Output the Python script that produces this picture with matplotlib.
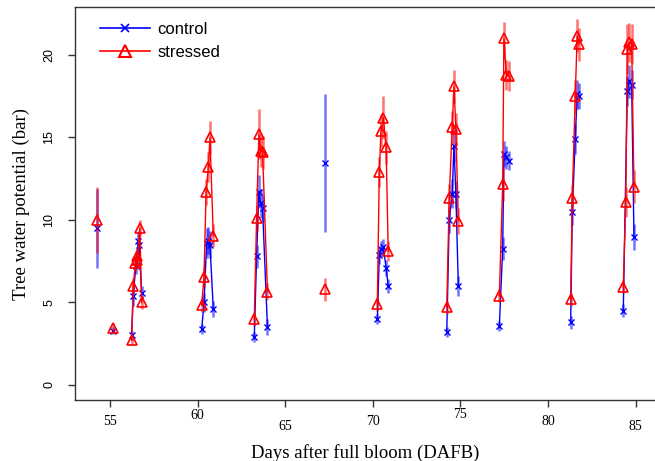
import matplotlib
matplotlib.use('Agg')
import matplotlib.pyplot as plt
import numpy as np
from matplotlib.transforms import ScaledTranslation
from matplotlib.lines import Line2D

# ---------------- data ----------------
control_grp = [1,
               2,
               3, 3, 3, 3, 3, 3,
               4, 4, 4, 4, 4, 4,
               5, 5, 5, 5, 5, 5,
               6,
               7, 7, 7, 7, 7, 7,
               8, 8, 8, 8, 8, 8,
               9, 9, 9, 9, 9,
               10, 10, 10, 10, 10,
               11, 11, 11, 11, 11]
control_day = [54.25,
               55.20,
               56.24, 56.33, 56.48, 56.62, 56.67, 56.81,
               60.24, 60.37, 60.52, 60.62, 60.71, 60.90,
               63.24, 63.37, 63.50, 63.60, 63.71, 63.99,
               67.27,
               70.26, 70.37, 70.47, 70.60, 70.76, 70.88,
               74.22, 74.36, 74.53, 74.63, 74.74, 74.88,
               77.22, 77.41, 77.48, 77.62, 77.78,
               81.29, 81.38, 81.55, 81.66, 81.77,
               84.29, 84.52, 84.63, 84.77, 84.90]
control_val = [9.5,
               3.3,
               3.0, 5.4, 7.2, 8.7, 8.5, 5.6,
               3.4, 5.0, 8.6, 8.75, 8.5, 4.6,
               2.9, 7.8, 11.7, 11.0, 10.7, 3.5,
               13.45,
               4.0, 7.85, 8.25, 8.35, 7.1, 6.0,
               3.2, 10.0, 11.6, 14.5, 11.55, 6.0,
               3.6, 8.25, 14.0, 13.8, 13.6,
               3.8, 10.5, 14.9, 17.6, 17.5,
               4.5, 17.8, 18.4, 18.2, 8.95]
control_err = [2.4,
               0.2,
               0.3, 0.6, 0.5, 0.6, 0.6, 0.4,
               0.3, 0.6, 0.9, 0.8, 0.8, 0.5,
               0.3, 0.7, 1.0, 0.9, 0.8, 0.5,
               4.2,
               0.3, 0.5, 0.5, 0.5, 0.5, 0.4,
               0.3, 0.8, 0.9, 1.0, 0.8, 0.6,
               0.3, 0.7, 0.8, 0.7, 0.6,
               0.4, 0.8, 0.9, 0.9, 0.8,
               0.4, 0.9, 1.0, 0.9, 0.8]

stressed_grp = [1,
                2,
                3, 3, 3, 3, 3, 3, 3,
                4, 4, 4, 4, 4, 4,
                5, 5, 5, 5, 5, 5,
                6,
                7, 7, 7, 7, 7, 7,
                8, 8, 8, 8, 8, 8,
                9, 9, 9, 9, 9,
                10, 10, 10, 10, 10,
                11, 11, 11, 11, 11, 11]
stressed_day = [54.25,
                55.20,
                56.24, 56.33, 56.46, 56.52, 56.57, 56.71, 56.81,
                60.24, 60.37, 60.49, 60.62, 60.71, 60.90,
                63.24, 63.37, 63.50, 63.60, 63.71, 63.99,
                67.27,
                70.26, 70.37, 70.47, 70.60, 70.76, 70.88,
                74.22, 74.36, 74.53, 74.63, 74.74, 74.88,
                77.22, 77.41, 77.48, 77.62, 77.78,
                81.29, 81.38, 81.55, 81.66, 81.77,
                84.29, 84.43, 84.52, 84.63, 84.77, 84.90]
stressed_val = [10.0,
                3.45,
                2.7, 6.0, 7.4, 7.6, 7.8, 9.5, 5.0,
                4.85, 6.55, 11.7, 13.2, 15.0, 9.05,
                4.0, 10.1, 15.2, 14.2, 14.1, 5.65,
                5.8,
                4.9, 12.9, 15.4, 16.2, 14.4, 8.1,
                4.7, 11.3, 15.6, 18.1, 15.5, 9.95,
                5.4, 12.15, 21.0, 18.8, 18.7,
                5.2, 11.3, 17.5, 21.15, 20.65,
                5.95, 11.1, 20.35, 20.75, 20.65, 12.0]
stressed_err = [2.0,
                0.3,
                0.3, 0.5, 0.5, 0.5, 0.5, 0.5, 0.4,
                0.4, 0.6, 0.8, 0.9, 1.0, 0.7,
                0.4, 0.8, 1.5, 1.0, 1.0, 0.5,
                0.7,
                0.4, 0.9, 1.0, 1.3, 1.0, 0.6,
                0.4, 0.9, 1.0, 1.0, 1.0, 0.8,
                0.4, 1.0, 1.0, 0.9, 0.9,
                0.4, 0.8, 1.0, 1.0, 1.0,
                0.4, 0.9, 1.5, 1.2, 1.2, 1.0]

x_ticks = [55, 60, 65, 70, 75, 80, 85]
y_ticks = [0, 5, 10, 15, 20]
series_labels = ["control", "stressed"]

# ---------------- plot ----------------
fig = plt.figure(figsize=(6.55, 4.61), dpi=100)
ax = fig.add_axes([75 / 655, 1 - 400 / 461, 580 / 655, 393 / 461])

BLUE = '#0000ff'
RED = '#ff0000'

def draw_series(days, vals, errs, grps, color, marker, ms, mew, z):
    days = np.asarray(days); vals = np.asarray(vals)
    errs = np.asarray(errs); grps = np.asarray(grps)
    # error bars
    ax.vlines(days, vals - errs, vals + errs, colors=color, lw=1.8,
              alpha=0.55, zorder=z)
    for g in np.unique(grps):
        m = grps == g
        ax.plot(days[m], vals[m], color=color, lw=1.0, zorder=z + 1)
    ax.plot(days, vals, ls='none', marker=marker, ms=ms, mew=mew,
            mec=color, mfc='none', zorder=z + 2)

draw_series(control_day, control_val, control_err, control_grp,
            BLUE, 'x', 5, 1.0, 2)
draw_series(stressed_day, stressed_val, stressed_err, stressed_grp,
            RED, '^', 7, 1.2, 5)

ax.set_xlim(53.01, 86.10)
ax.set_ylim(-0.91, 22.9)

for s in ['left', 'bottom', 'top']:
    ax.spines[s].set_linewidth(1.0)
    ax.spines[s].set_color('#333333')
ax.spines['right'].set_visible(False)

ax.set_xticks(x_ticks)
ax.set_yticks(y_ticks)
ax.tick_params(axis='both', direction='out', length=5, width=1.0,
               color='#333333')
ax.tick_params(axis='x', pad=6)
ax.tick_params(axis='y', pad=9)
ax.set_xticklabels([str(v) for v in x_ticks], family='Liberation Serif',
                   fontsize=10)
ax.set_yticklabels([str(v) for v in y_ticks], family='Liberation Sans',
                   fontsize=9, rotation=90, va='center')

# staggered x tick labels as in the reference
stagger_px = [0, 6, -5, 0, 7, 0, -5]
for lab, dy in zip(ax.get_xticklabels(), stagger_px):
    lab.set_transform(lab.get_transform() +
                      ScaledTranslation(0, dy / 100, fig.dpi_scale_trans))

ax.set_xlabel("Days after full bloom (DAFB)", family='Liberation Serif',
              fontsize=13.5, labelpad=8)
ax.set_ylabel("Tree water potential (bar)", family='Liberation Serif',
              fontsize=13.5, labelpad=10)

handles = [Line2D([], [], color=BLUE, lw=1.2, marker='x', ms=6, mew=1.2),
           Line2D([], [], color=RED, lw=1.2, marker='^', ms=9, mew=1.5,
                  mfc='none')]
ax.legend(handles, series_labels, loc='upper left',
          bbox_to_anchor=(0.043, 0.962), frameon=False, borderpad=0,
          borderaxespad=0, handlelength=3.0, handletextpad=0.45,
          labelspacing=0.5, prop={'family': 'Liberation Sans', 'size': 12})

fig.savefig('out.png', dpi=100)
